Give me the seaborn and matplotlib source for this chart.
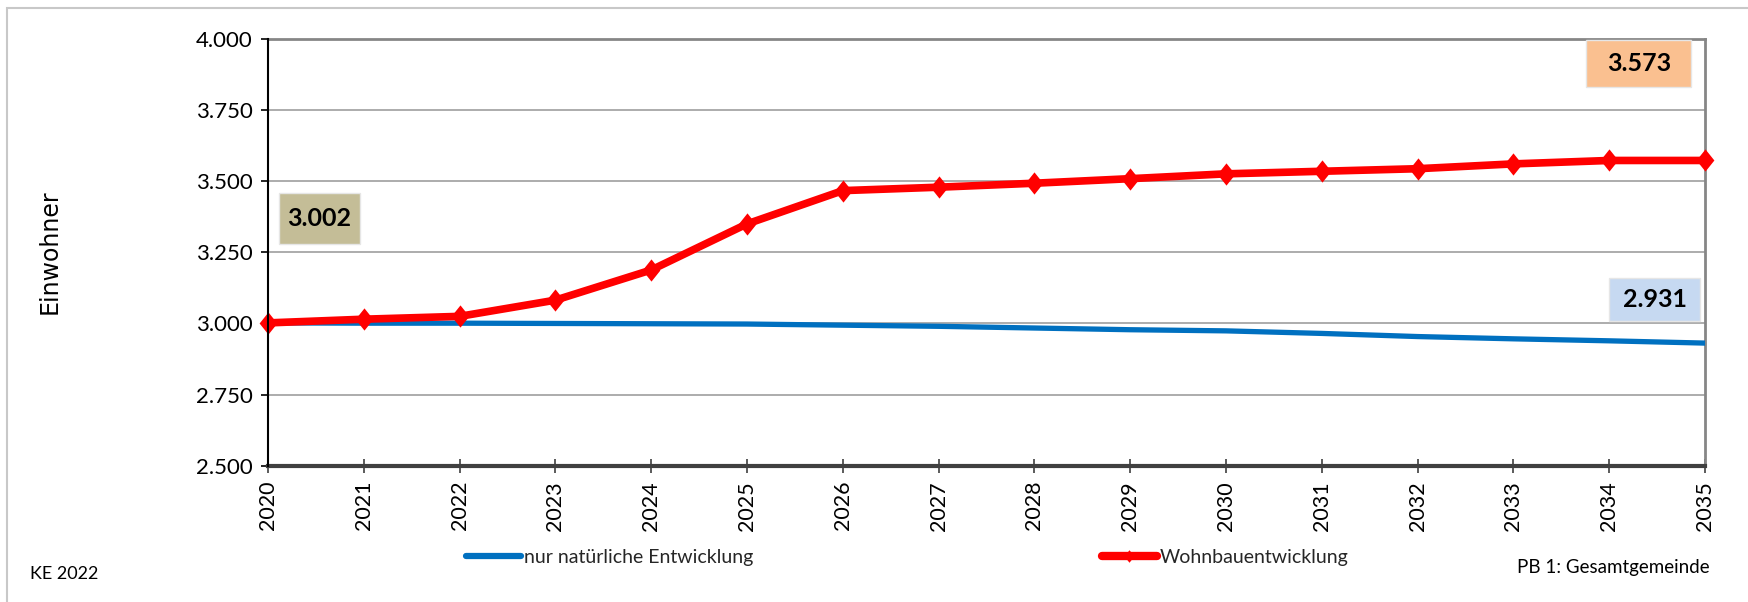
import numpy as np
import pandas as pd
import matplotlib
matplotlib.use("Agg")
import matplotlib.pyplot as plt
from matplotlib.ticker import FuncFormatter, FixedLocator
from matplotlib.lines import Line2D
from matplotlib.patches import Rectangle
from matplotlib.path import Path
import seaborn as sns

# Einwohnerprognose Gesamtgemeinde 2020-2035
years = list(range(2020, 2036))
natuerlich = [3002, 3001, 3001, 3000, 2999, 2998, 2994, 2990, 2984, 2978,
              2974, 2965, 2954, 2946, 2939, 2931]
wohnbau = [3002, 3015, 3025, 3082, 3188, 3350, 3467, 3479, 3493, 3509,
           3526, 3535, 3544, 3561, 3573, 3573]
series_names = ["nur natürliche Entwicklung", "Wohnbauentwicklung"]
y_ticks = [2500, 2750, 3000, 3250, 3500, 3750, 4000]

BLUE = "#0070C0"
RED = "#FF0000"

sns.set_theme(style="white")
plt.rcParams["font.family"] = ["Lato", "DejaVu Sans"]

df = pd.DataFrame({"Jahr": years, series_names[0]: natuerlich, series_names[1]: wohnbau})

fig = plt.figure(figsize=(17.49, 6.02), dpi=100)
W, H = 1749, 602
ax = fig.add_axes([268 / W, 1 - 465.7 / H, (1705 - 268) / W, (465.7 - 39) / H])

# outer chart frame
fig.patches.append(Rectangle((7 / W, -0.1), 1.2, 1 - 8 / H + 0.1, transform=fig.transFigure,
                             fill=False, edgecolor="#C8C8C8", linewidth=1.5, zorder=0))

diamond = Path([(0, 1), (0.8, 0), (0, -1), (-0.8, 0), (0, 1)],
               [Path.MOVETO, Path.LINETO, Path.LINETO, Path.LINETO, Path.CLOSEPOLY])

sns.lineplot(data=df, x="Jahr", y=series_names[0], ax=ax, color=BLUE, linewidth=3.8,
             zorder=3, legend=False)
sns.lineplot(data=df, x="Jahr", y=series_names[1], ax=ax, color=RED, linewidth=5.5,
             marker=diamond, markersize=16, markeredgewidth=0, markerfacecolor=RED,
             zorder=4, legend=False, clip_on=False)

ax.set_xlim(years[0], years[-1])
ax.set_ylim(y_ticks[0], y_ticks[-1])
ax.xaxis.set_major_locator(FixedLocator(years))
ax.yaxis.set_major_locator(FixedLocator(y_ticks))
ax.yaxis.set_major_formatter(FuncFormatter(lambda v, p: f"{v:,.0f}".replace(",", ".")))
ax.set_xticklabels([str(y) for y in years], rotation=90)

ax.grid(axis="y", color="#A6A6A6", linewidth=1.3)
ax.set_axisbelow(True)
for s in ["top", "right"]:
    ax.spines[s].set_color("#868686")
    ax.spines[s].set_linewidth(2)
ax.spines["left"].set_color("#000000")
ax.spines["left"].set_linewidth(1.5)
ax.spines["bottom"].set_color("#404040")
ax.spines["bottom"].set_linewidth(3)
ax.spines["left"].set_zorder(5)

ax.tick_params(axis="y", direction="out", length=5, width=1.2, color="#000000",
               labelsize=16, pad=6, left=True)
ax.tick_params(axis="x", direction="inout", length=10, width=1.2, color="#404040",
               labelsize=15.5, pad=6, bottom=True)
for lbl in ax.get_xticklabels() + ax.get_yticklabels():
    lbl.set_color("#000000")

ax.set_xlabel("")
ax.set_ylabel("")
fig.text(50 / W, 1 - 252 / H, "Einwohner", rotation=90, ha="center", va="center",
         fontsize=17, family="DejaVu Sans", color="#000000")

# value boxes: start value, end values of both series
def value_box(cx, cy, w, h, value, face):
    ax.add_patch(Rectangle((cx - w / 2, cy - h / 2), w, h, transform=ax.transAxes,
                           facecolor=face, edgecolor="#E6E6E6", linewidth=1,
                           zorder=6, clip_on=False))
    ax.text(cx, cy, f"{value:,.0f}".replace(",", "."), transform=ax.transAxes,
            ha="center", va="center", fontsize=18, fontweight="bold",
            color="#000000", zorder=7)

aw, ah = 1437, 426.7
value_box((319.5 - 268) / aw, (465.7 - 218) / ah, 81 / aw, 51 / ah, wohnbau[0], "#C4BD97")
value_box((1639 - 268) / aw, (465.7 - 63.5) / ah, 105 / aw, 46 / ah, wohnbau[-1], "#FAC090")
value_box((1655 - 268) / aw, (465.7 - 299.5) / ah, 91 / aw, 43 / ah, natuerlich[-1], "#C6D9F1")

handles = [
    Line2D([], [], color=BLUE, linewidth=4.5),
    Line2D([], [], color=RED, linewidth=6, marker=diamond, markersize=9,
           markerfacecolor=RED, markeredgewidth=0),
]
fig.legend(handles, series_names, loc="center left", bbox_to_anchor=(466 / W, 1 - 557 / H),
           ncol=2, frameon=False, fontsize=14, handlelength=2.85, handletextpad=0.15,
           columnspacing=17.9, borderaxespad=0, borderpad=0)

fig.text(30 / W, 1 - 574 / H, "KE 2022", ha="left", va="center", fontsize=13, color="#000000")
fig.text(1710 / W, 1 - 568 / H, "PB 1: Gesamtgemeinde", ha="right", va="center",
         fontsize=13.5, color="#000000")

fig.savefig("out.png", dpi=100, facecolor="white")
